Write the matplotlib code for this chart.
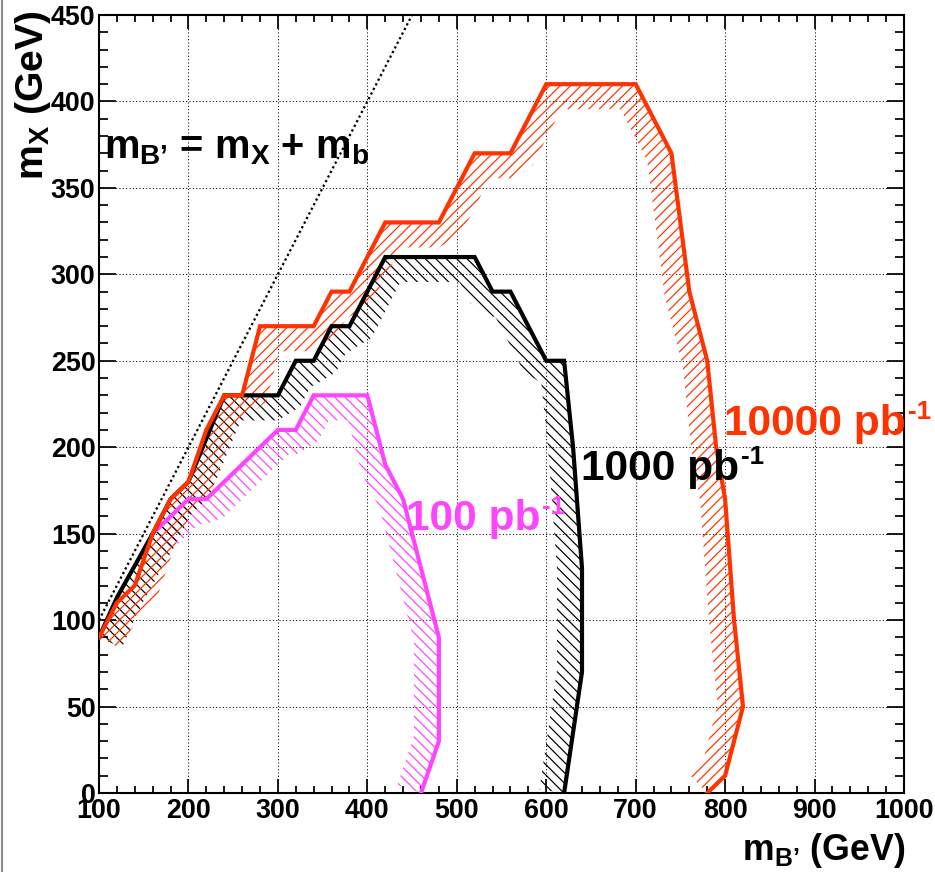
import numpy as np
import matplotlib
matplotlib.use('Agg')
import matplotlib.pyplot as plt
from matplotlib.patches import PathPatch
from matplotlib.path import Path
from matplotlib.lines import Line2D
from matplotlib.ticker import MultipleLocator

plt.rcParams['font.family'] = ['Liberation Sans', 'DejaVu Sans']
plt.rcParams['font.weight'] = 'bold'
plt.rcParams['mathtext.fontset'] = 'custom'
plt.rcParams['mathtext.rm'] = 'Liberation Sans:bold'
plt.rcParams['mathtext.it'] = 'Liberation Sans:bold'
plt.rcParams['mathtext.bf'] = 'Liberation Sans:bold'
plt.rcParams['mathtext.sf'] = 'Liberation Sans:bold'
plt.rcParams['hatch.linewidth'] = 0.7

# ---------------- data ----------------
mB_100 = [160, 180, 200, 220, 300, 320, 340, 400, 420, 440, 480, 480, 460]
mX_100 = [150, 160, 170, 170, 210, 210, 230, 230, 190, 170, 90, 30, 0]

mB_1000 = [100, 120, 160, 180, 200, 240, 300, 320, 340, 360, 380, 420, 520, 540, 560,
           600, 620, 630, 640, 640, 620]
mX_1000 = [90, 113, 150, 170, 180, 230, 230, 250, 250, 270, 270, 310, 310, 290, 290,
           250, 250, 200, 130, 70, 0]

mB_10000 = [100, 120, 140, 160, 180, 200, 220, 240, 260, 280, 340, 360, 380, 420, 480,
            520, 560, 600, 700, 740, 760, 780, 790, 800, 810, 820, 800, 780]
mX_10000 = [90, 110, 120, 150, 170, 180, 210, 230, 230, 270, 270, 290, 290, 330, 330,
            370, 370, 410, 410, 370, 290, 250, 200, 170, 100, 50, 10, 0]

m_b = 0.0
diag_mB = [100, 460]

labels = ["100 pb", "1000 pb", "10000 pb"]
label_sup = "-1"
label_pos = [(443, 152), (639, 181), (799, 207)]
colors = ["#ff44ff", "#000000", "#ff3300"]
hatches = ["\\\\\\\\", "\\\\\\\\", "////"]

# ---------------- figure ----------------
W, H, DPI = 935, 872, 125
fig = plt.figure(figsize=(W / DPI, H / DPI), dpi=DPI)
ax = fig.add_axes([99 / W, 1 - 793 / H, 805 / W, 778 / H])
ax.set_xlim(100, 1000)
ax.set_ylim(0, 450)

ax.xaxis.set_major_locator(MultipleLocator(100))
ax.xaxis.set_minor_locator(MultipleLocator(20))
ax.yaxis.set_major_locator(MultipleLocator(50))
ax.yaxis.set_minor_locator(MultipleLocator(10))
ax.tick_params(which='both', direction='in', top=True, right=True, width=1.0,
               labelsize=15.5, colors='black')
ax.tick_params(axis='x', which='major', length=8, pad=3)
ax.tick_params(axis='x', which='minor', length=4)
ax.tick_params(axis='y', which='major', length=10, pad=2)
ax.tick_params(axis='y', which='minor', length=5)
for lab in ax.get_xticklabels() + ax.get_yticklabels():
    lab.set_fontweight('bold')
for sp in ax.spines.values():
    sp.set_linewidth(1.2)
ax.grid(True, which='major', color='black', linestyle=(0, (1, 2.2)), linewidth=0.6)
ax.set_axisbelow(True)


def hatch_band(xs, ys, width_px, color, hatch, z):
    pts = ax.transData.transform(np.column_stack([xs, ys]))
    polys = []
    normals = []
    for i in range(len(pts) - 1):
        d = pts[i + 1] - pts[i]
        L = np.hypot(d[0], d[1])
        nrm = np.array([d[1], -d[0]]) / L
        normals.append(nrm)
        polys.append([pts[i], pts[i + 1], pts[i + 1] + width_px * nrm, pts[i] + width_px * nrm])
    for i in range(1, len(pts) - 1):
        polys.append([pts[i], pts[i] + width_px * normals[i - 1], pts[i] + width_px * normals[i]])
    inv = ax.transData.inverted()
    verts, codes = [], []
    for poly in polys:
        p = np.array(poly)
        area = 0.5 * np.sum(p[:, 0] * np.roll(p[:, 1], -1) - np.roll(p[:, 0], -1) * p[:, 1])
        if area < 0:
            p = p[::-1]
        p = inv.transform(p)
        verts.extend(list(p) + [p[0]])
        codes.extend([Path.MOVETO] + [Path.LINETO] * (len(p) - 1) + [Path.CLOSEPOLY])
    patch = PathPatch(Path(verts, codes), facecolor='none', edgecolor=color,
                      linewidth=0, hatch=hatch, zorder=z)
    ax.add_patch(patch)


curves = [(mB_100, mX_100), (mB_1000, mX_1000), (mB_10000, mX_10000)]
for k, ((xs, ys), c, h) in enumerate(zip(curves, colors, hatches)):
    hatch_band(xs, ys, 25, c, h, 2 + k)
for k, ((xs, ys), c) in enumerate(zip(curves, colors)):
    ax.plot(xs, ys, color=c, linewidth=2.4, solid_joinstyle='miter', zorder=6 + k)

dx = np.array(diag_mB, dtype=float)
ax.plot(dx, dx - m_b, color='black', linewidth=1.3, linestyle=(0, (1, 1.3)), zorder=5)

for txt, (x, y), c in zip(labels, label_pos, colors):
    t = ax.text(x, y, txt, color=c, fontsize=24.5, fontweight='bold', ha='left',
                va='baseline', clip_on=False, zorder=10)
    ax.annotate(label_sup, xy=(1, 1), xycoords=t, xytext=(1, 2.5),
                textcoords='offset points', ha='left', va='top', color=c,
                fontsize=15, fontweight='bold', annotation_clip=False, zorder=10)

ax.text(106, 367, "m$_{B’}$ = m$_{X}$ + m$_{b}$", color='black', fontsize=23,
        fontweight='bold', ha='left', va='baseline', zorder=10)

fig.text(33 / W, 1 - 10 / H, "m$_{X}$ (GeV)", rotation=90, ha='center', va='top',
         fontsize=22.5, fontweight='bold')
fig.text(905 / W, 1 - 850 / H, "m$_{B’}$ (GeV)", ha='right', va='center',
         fontsize=20.5, fontweight='bold')

fig.add_artist(Line2D([1.5 / W, 1.5 / W], [0, 1], color='#888888', linewidth=1.2))

fig.savefig("out.png", dpi=DPI)
